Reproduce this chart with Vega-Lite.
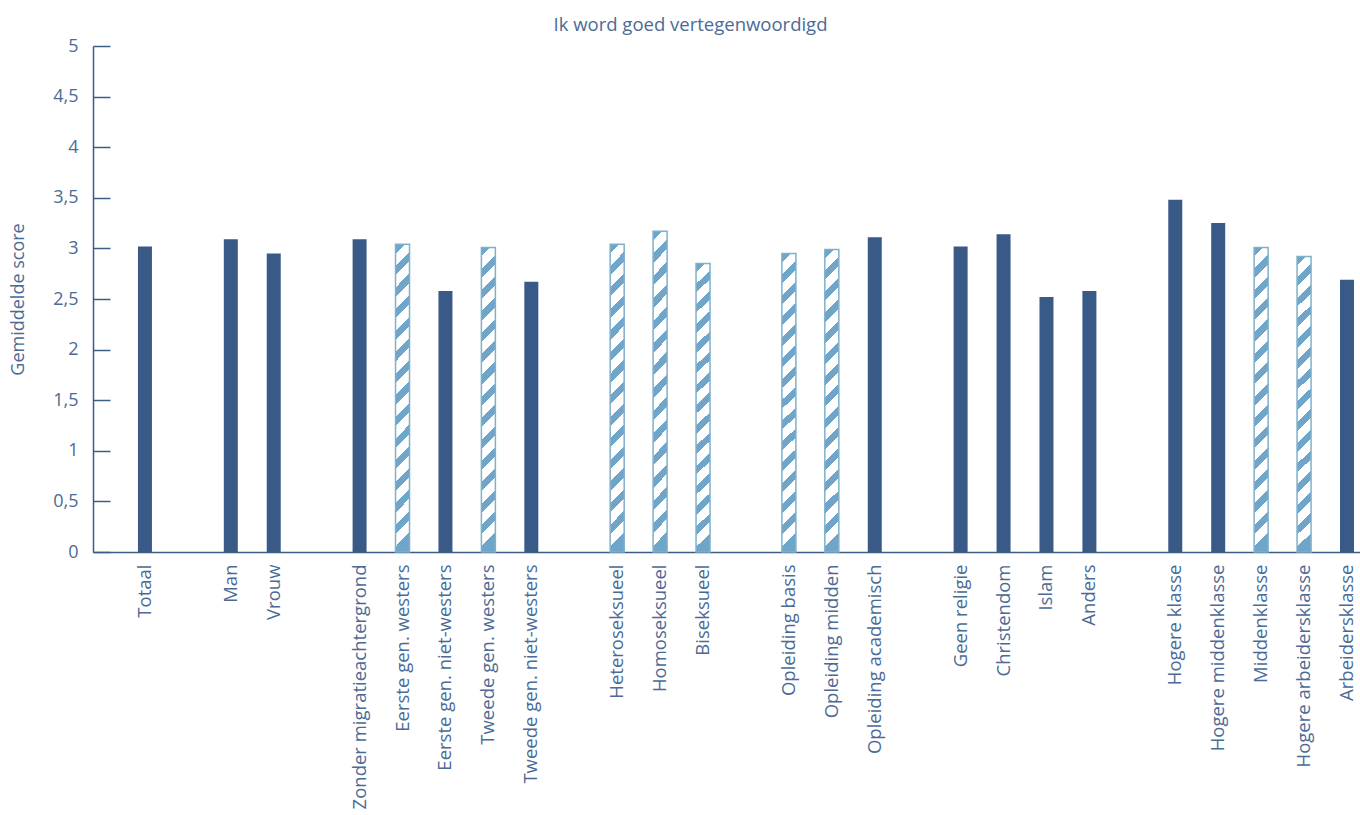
{
  "$schema": "https://vega.github.io/schema/vega-lite/v6.json",
  "autosize": {"type": "none"},
  "padding": {"left": 93, "top": 46, "right": 0, "bottom": 263},
  "width": 1267,
  "height": 506,
  "title": {
    "text": "Ik word goed vertegenwoordigd",
    "font": "Open Sans",
    "fontSize": 18.5,
    "fontWeight": "normal",
    "color": "#4b6b96",
    "anchor": "middle",
    "dx": -36,
    "offset": 3
  },
  "data": {
    "values": [
      {"categorie": "Totaal", "score": 3.02, "gearceerd": false},
      {"categorie": "Man", "score": 3.09, "gearceerd": false},
      {"categorie": "Vrouw", "score": 2.95, "gearceerd": false},
      {"categorie": "Zonder migratieachtergrond", "score": 3.09, "gearceerd": false},
      {"categorie": "Eerste gen. westers", "score": 3.04, "gearceerd": true},
      {"categorie": "Eerste gen. niet-westers", "score": 2.58, "gearceerd": false},
      {"categorie": "Tweede gen. westers", "score": 3.01, "gearceerd": true},
      {"categorie": "Tweede gen. niet-westers", "score": 2.67, "gearceerd": false},
      {"categorie": "Heteroseksueel", "score": 3.04, "gearceerd": true},
      {"categorie": "Homoseksueel", "score": 3.17, "gearceerd": true},
      {"categorie": "Biseksueel", "score": 2.85, "gearceerd": true},
      {"categorie": "Opleiding basis", "score": 2.95, "gearceerd": true},
      {"categorie": "Opleiding midden", "score": 2.99, "gearceerd": true},
      {"categorie": "Opleiding academisch", "score": 3.11, "gearceerd": false},
      {"categorie": "Geen religie", "score": 3.02, "gearceerd": false},
      {"categorie": "Christendom", "score": 3.14, "gearceerd": false},
      {"categorie": "Islam", "score": 2.52, "gearceerd": false},
      {"categorie": "Anders", "score": 2.58, "gearceerd": false},
      {"categorie": "Hogere klasse", "score": 3.48, "gearceerd": false},
      {"categorie": "Hogere middenklasse", "score": 3.25, "gearceerd": false},
      {"categorie": "Middenklasse", "score": 3.01, "gearceerd": true},
      {"categorie": "Hogere arbeidersklasse", "score": 2.92, "gearceerd": true},
      {"categorie": "Arbeidersklasse", "score": 2.69, "gearceerd": false}
    ]
  },
  "encoding": {
    "x": {
      "field": "categorie",
      "type": "nominal",
      "sort": null,
      "scale": {
        "domain": ["Totaal", " ", "Man", "Vrouw", "  ", "Zonder migratieachtergrond", "Eerste gen. westers", "Eerste gen. niet-westers", "Tweede gen. westers", "Tweede gen. niet-westers", "   ", "Heteroseksueel", "Homoseksueel", "Biseksueel", "    ", "Opleiding basis", "Opleiding midden", "Opleiding academisch", "     ", "Geen religie", "Christendom", "Islam", "Anders", "      ", "Hogere klasse", "Hogere middenklasse", "Middenklasse", "Hogere arbeidersklasse", "Arbeidersklasse"],
        "paddingInner": 0.674,
        "paddingOuter": 0.5935,
        "align": 0.882
      },
      "axis": {
        "title": null,
        "labelAngle": -90,
        "labelAlign": "right",
        "labelBaseline": "middle",
        "labelPadding": 12,
        "ticks": false,
        "domainColor": "#3d5c88",
        "domainWidth": 1.5,
        "labelFont": "Open Sans",
        "labelFontSize": 18.5,
        "labelColor": "#4b6b96",
        "labelOverlap": false,
        "labelLimit": 400
      }
    },
    "y": {
      "field": "score",
      "type": "quantitative",
      "scale": {"domain": [0, 5], "nice": false},
      "axis": {
        "title": "Gemiddelde score",
        "titleFont": "Open Sans",
        "titleFontSize": 18,
        "titleFontWeight": "normal",
        "titleColor": "#4b6b96",
        "titleX": -75,
        "titleBaseline": "middle",
        "values": [0, 0.5, 1, 1.5, 2, 2.5, 3, 3.5, 4, 4.5, 5],
        "labelExpr": "replace(format(datum.value, '~g'), '.', ',')",
        "labelFont": "Open Sans",
        "labelFontSize": 18,
        "labelColor": "#4b6b96",
        "labelPadding": 32,
        "tickSize": -17,
        "tickColor": "#3d5c88",
        "tickWidth": 1.5,
        "domainColor": "#3d5c88",
        "domainWidth": 1.5,
        "grid": false
      }
    }
  },
  "layer": [
    {
      "transform": [{"filter": "datum.gearceerd == false"}],
      "mark": {"type": "bar", "color": "#395a86"}
    },
    {
      "transform": [{"filter": "datum.gearceerd == true"}],
      "mark": {
        "type": "bar",
        "stroke": "#7fb0cc",
        "strokeWidth": 1.5,
        "fill": {
          "gradient": "linear",
          "x1": 0, "y1": 0, "x2": 0.046, "y2": 1,
          "stops": [
            {"offset": 0, "color": "#6fa5c8"}, {"offset": 0.03, "color": "#6fa5c8"}, {"offset": 0.03, "color": "#ffffff"}, {"offset": 0.07, "color": "#ffffff"},
            {"offset": 0.07, "color": "#6fa5c8"}, {"offset": 0.1, "color": "#6fa5c8"}, {"offset": 0.1, "color": "#ffffff"}, {"offset": 0.14, "color": "#ffffff"},
            {"offset": 0.14, "color": "#6fa5c8"}, {"offset": 0.17, "color": "#6fa5c8"}, {"offset": 0.17, "color": "#ffffff"}, {"offset": 0.21, "color": "#ffffff"},
            {"offset": 0.21, "color": "#6fa5c8"}, {"offset": 0.24, "color": "#6fa5c8"}, {"offset": 0.24, "color": "#ffffff"}, {"offset": 0.28, "color": "#ffffff"},
            {"offset": 0.28, "color": "#6fa5c8"}, {"offset": 0.31, "color": "#6fa5c8"}, {"offset": 0.31, "color": "#ffffff"}, {"offset": 0.35, "color": "#ffffff"},
            {"offset": 0.35, "color": "#6fa5c8"}, {"offset": 0.38, "color": "#6fa5c8"}, {"offset": 0.38, "color": "#ffffff"}, {"offset": 0.42, "color": "#ffffff"},
            {"offset": 0.42, "color": "#6fa5c8"}, {"offset": 0.45, "color": "#6fa5c8"}, {"offset": 0.45, "color": "#ffffff"}, {"offset": 0.49, "color": "#ffffff"},
            {"offset": 0.49, "color": "#6fa5c8"}, {"offset": 0.52, "color": "#6fa5c8"}, {"offset": 0.52, "color": "#ffffff"}, {"offset": 0.56, "color": "#ffffff"},
            {"offset": 0.56, "color": "#6fa5c8"}, {"offset": 0.59, "color": "#6fa5c8"}, {"offset": 0.59, "color": "#ffffff"}, {"offset": 0.63, "color": "#ffffff"},
            {"offset": 0.63, "color": "#6fa5c8"}, {"offset": 0.66, "color": "#6fa5c8"}, {"offset": 0.66, "color": "#ffffff"}, {"offset": 0.7, "color": "#ffffff"},
            {"offset": 0.7, "color": "#6fa5c8"}, {"offset": 0.73, "color": "#6fa5c8"}, {"offset": 0.73, "color": "#ffffff"}, {"offset": 0.77, "color": "#ffffff"},
            {"offset": 0.77, "color": "#6fa5c8"}, {"offset": 0.8, "color": "#6fa5c8"}, {"offset": 0.8, "color": "#ffffff"}, {"offset": 0.84, "color": "#ffffff"},
            {"offset": 0.84, "color": "#6fa5c8"}, {"offset": 0.87, "color": "#6fa5c8"}, {"offset": 0.87, "color": "#ffffff"}, {"offset": 0.91, "color": "#ffffff"},
            {"offset": 0.91, "color": "#6fa5c8"}, {"offset": 0.94, "color": "#6fa5c8"}, {"offset": 0.94, "color": "#ffffff"}, {"offset": 0.98, "color": "#ffffff"},
            {"offset": 0.98, "color": "#6fa5c8"}, {"offset": 1, "color": "#6fa5c8"}
          ]
        }
      }
    }
  ],
  "config": {
    "view": {"stroke": null},
    "background": "#ffffff"
  }
}
